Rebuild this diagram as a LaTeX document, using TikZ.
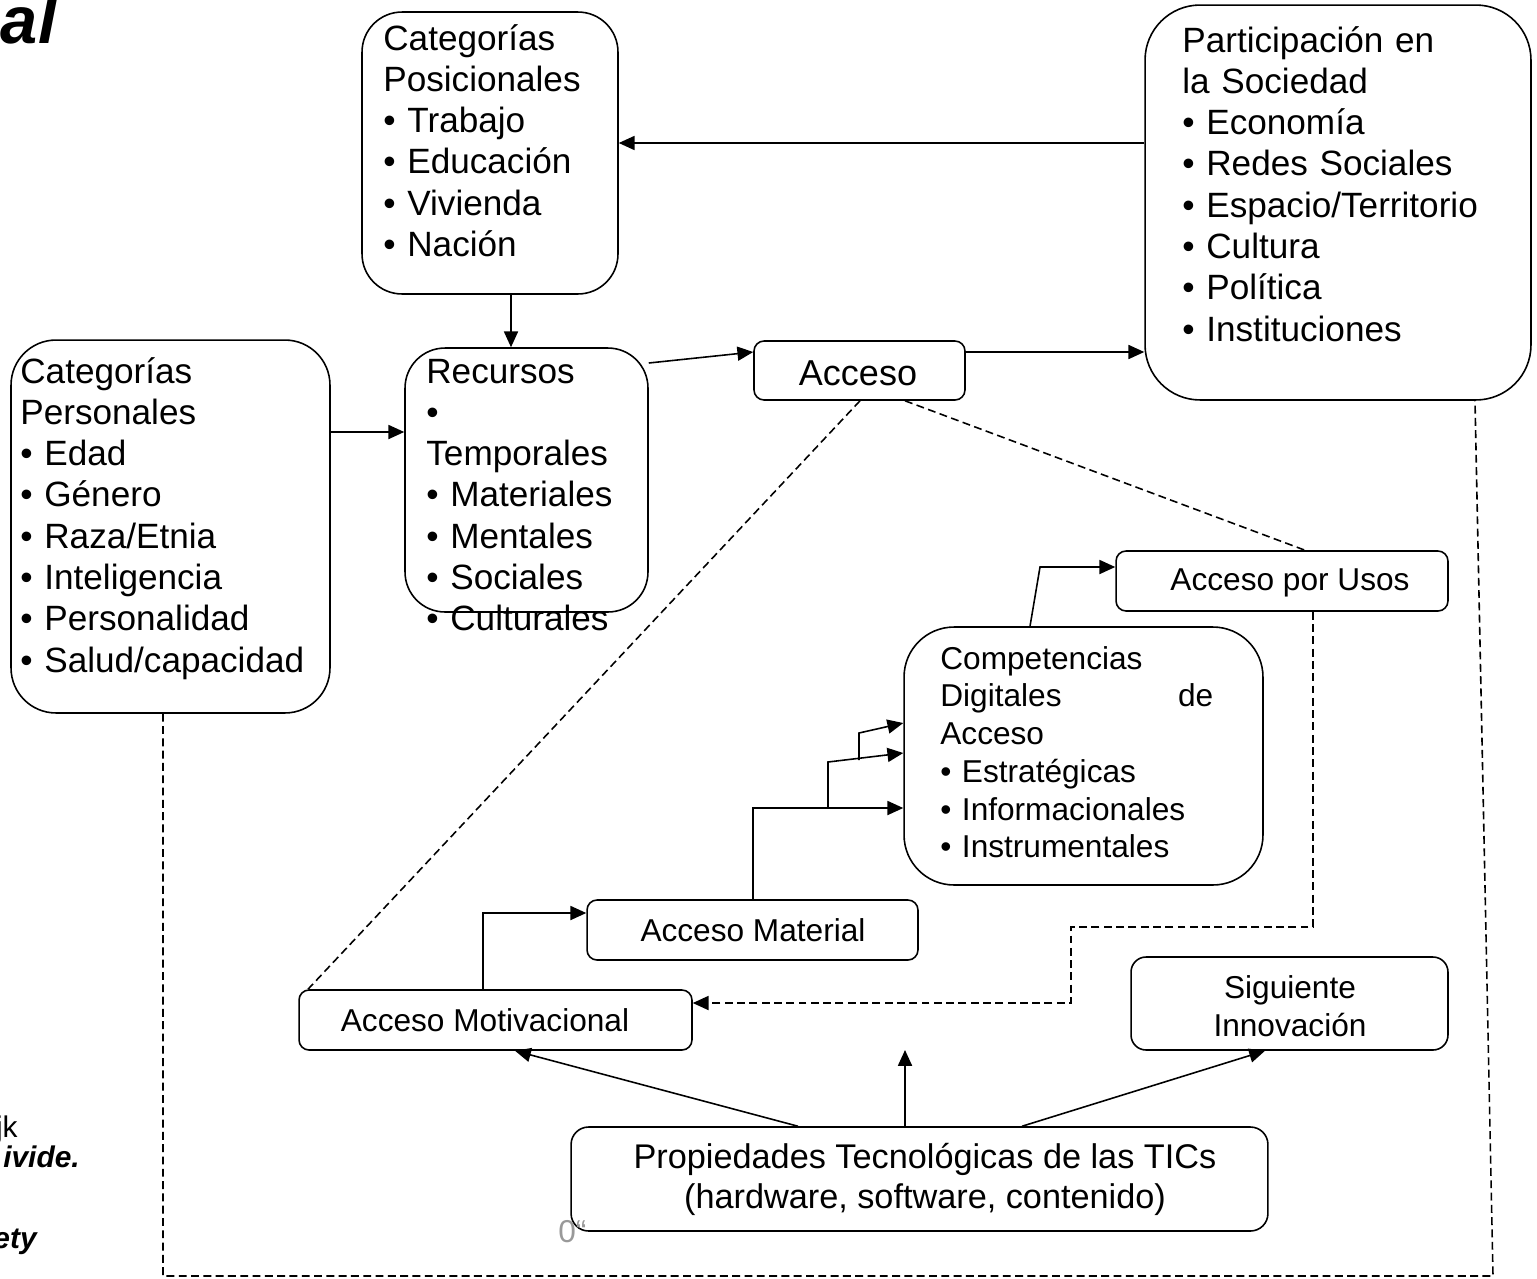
\documentclass[tikz,border=0pt]{standalone}
\usepackage{fontspec}
\setmainfont{Liberation Sans}
\usetikzlibrary{arrows.meta}
\tikzset{
  box/.style={draw, line width=0.9pt, inner sep=0pt},
  arr/.style={-{Triangle[length=9pt,width=8pt]}, line width=0.9pt},
  dsh/.style={dash pattern=on 4.5pt off 2.5pt, line width=0.9pt},
  big/.style={font=\fontsize{20pt}{23.5pt}\selectfont, inner sep=0pt, align=left},
  mid/.style={font=\fontsize{18pt}{21.5pt}\selectfont, inner sep=0pt},
  frag/.style={font=\fontsize{17pt}{19pt}\selectfont, inner sep=0pt, anchor=base east},
}
\begin{document}
\begin{tikzpicture}[x=0.02cm, y=-0.02cm]
\useasboundingbox (0,0) rectangle (1537,1278);

% boxes
\node[box, rounded corners=0.8cm, minimum width=5.12cm, minimum height=5.64cm] (pos) at (490,153) {};
\node[box, rounded corners=1.1cm, minimum width=7.72cm, minimum height=7.9cm] (part) at (1338,202.5) {};
\node[box, rounded corners=0.9cm, minimum width=6.38cm, minimum height=7.46cm] (pers) at (170.5,526.5) {};
\node[box, rounded corners=0.8cm, minimum width=4.86cm, minimum height=5.28cm] (rec) at (526.5,480) {};
\node[box, rounded corners=0.2cm, minimum width=4.22cm, minimum height=1.18cm] (acc) at (859.5,370.5) {};
\node[box, rounded corners=0.2cm, minimum width=6.64cm, minimum height=1.2cm] (usos) at (1282,581) {};
\node[box, rounded corners=1.0cm, minimum width=7.18cm, minimum height=5.16cm] (comp) at (1083.5,756) {};
\node[box, rounded corners=0.2cm, minimum width=6.62cm, minimum height=1.2cm] (mat) at (752.5,930) {};
\node[box, rounded corners=0.2cm, minimum width=7.86cm, minimum height=1.2cm] (mot) at (495.5,1020) {};
\node[box, rounded corners=0.3cm, minimum width=6.34cm, minimum height=1.86cm] (sig) at (1289.5,1003.5) {};
\node[box, rounded corners=0.35cm, minimum width=13.94cm, minimum height=2.08cm] (prop) at (919.5,1179) {};

% texts
\node[big, anchor=base west, text width=5cm] (posT) at (383,50)
  {Categorías\\Posicionales\\• Trabajo\\• Educación\\• Vivienda\\• Nación};
\node[big, anchor=base west, text width=6.8cm] (partT) at (1182,52)
  {Participación en\\la Sociedad\\• Economía\\• Redes Sociales\\• Espacio/Territorio\\• Cultura\\• Política\\• Instituciones};
\node[big, anchor=base west, text width=6.2cm] (persT) at (20,383)
  {Categorías\\Personales\\• Edad\\• Género\\• Raza/Etnia\\• Inteligencia\\• Personalidad\\• Salud/capacidad};
\node[big, anchor=base west, text width=4.5cm] (recT) at (426,383)
  {Recursos\\•\\Temporales\\• Materiales\\• Mentales\\• Sociales\\• Culturales};
\node[mid, anchor=base west, text width=5.46cm, align=left] (compT) at (940,669)
  {Competencias\\Digitales\hfill de\\Acceso\\• Estratégicas\\• Informacionales\\• Instrumentales};
\node[inner sep=0pt, font=\fontsize{20.5pt}{24pt}\selectfont] (accT) at (858,373) {Acceso};
\node[mid] (usosT) at (1290,583) {Acceso por Usos};
\node[mid] (matT) at (753,930) {Acceso Material};
\node[mid] (motT) at (485,1020) {Acceso Motivacional};
\node[mid, align=center] (sigT) at (1290,1006) {Siguiente\\Innovación};
\node[inner sep=0pt, align=center, font=\fontsize{19.5pt}{22.7pt}\selectfont] (propT) at (925,1179)
  {Propiedades Tecnológicas de las TICs\\(hardware, software, contenido)};

% fragments
\node[inner sep=0pt, anchor=base east, font=\fontsize{38pt}{40pt}\selectfont\bfseries\itshape] (alT) at (57,43) {al};
\node[frag] (jkT) at (18,1137) {jk};
\node[frag, font=\fontsize{17pt}{19pt}\selectfont\bfseries\itshape] (divT) at (80,1167) {ivide.};
\node[frag, font=\fontsize{17pt}{19pt}\selectfont\bfseries\itshape] (etyT) at (37,1248) {ety};
\node[inner sep=0pt, anchor=base west, text=black!40, font=\fontsize{18pt}{19pt}\selectfont] (zeroT) at (558,1242) {0“};

% solid connectors
\draw[arr] (part.west |- 0,143) -- (pos.east |- 0,143);
\draw[arr] (pos.south -| 511,0) -- (rec.north -| 511,0);
\draw[arr] (pers.east |- 0,432) -- (rec.west |- 0,432);
\draw[arr] (rec.east |- 0,363) -- (acc.west |- 0,352);
\draw[arr] (acc.east |- 0,352) -- (part.west |- 0,352);
\coordinate (cu) at (1040,567);
\draw[arr] (comp.north -| 1030,0) -- (cu) -- (usos.west |- cu);
\draw[arr] (mat.north -| 753,0) |- (comp.west |- 0,808);
\coordinate (b1) at (828,808);
\coordinate (b1t) at (828,762);
\coordinate (b2) at (859,760);
\coordinate (b2t) at (859,733);
\draw[arr] (b1) -- (b1t) -- (comp.west |- 0,753);
\draw[arr] (b2) -- (b2t) -- (comp.west |- 0,723);
\draw[arr] (mot.north -| 483,0) |- (mat.west |- 0,913);
\draw[arr] (prop.north -| 798,0) -- (mot.south -| 515,0);
\coordinate (up) at (905,1050);
\draw[arr] (prop.north -| 905,0) -- (up);
\draw[arr] (prop.north -| 1022,0) -- (sig.south -| 1265,0);

% dashed connectors
\coordinate (d1) at (1313,927);
\coordinate (d2) at (1071,927);
\coordinate (d3) at (1071,1003);
\draw[dsh, -{Triangle[length=9pt,width=8pt]}] (usos.south -| 1313,0) -- (d1) -- (d2) -- (d3) -- (mot.east |- d3);
\draw[dsh] (acc.south -| 860,0) -- (mot.north -| 308,0);
\draw[dsh] (acc.south -| 905,0) -- (usos.north -| 1305,0);
\coordinate (e1) at (163,1276);
\coordinate (e2) at (1493,1276);
\draw[dsh] (pers.south -| 163,0) -- (e1) -- (e2) -- (part.south -| 1475,0);
\end{tikzpicture}
\end{document}
